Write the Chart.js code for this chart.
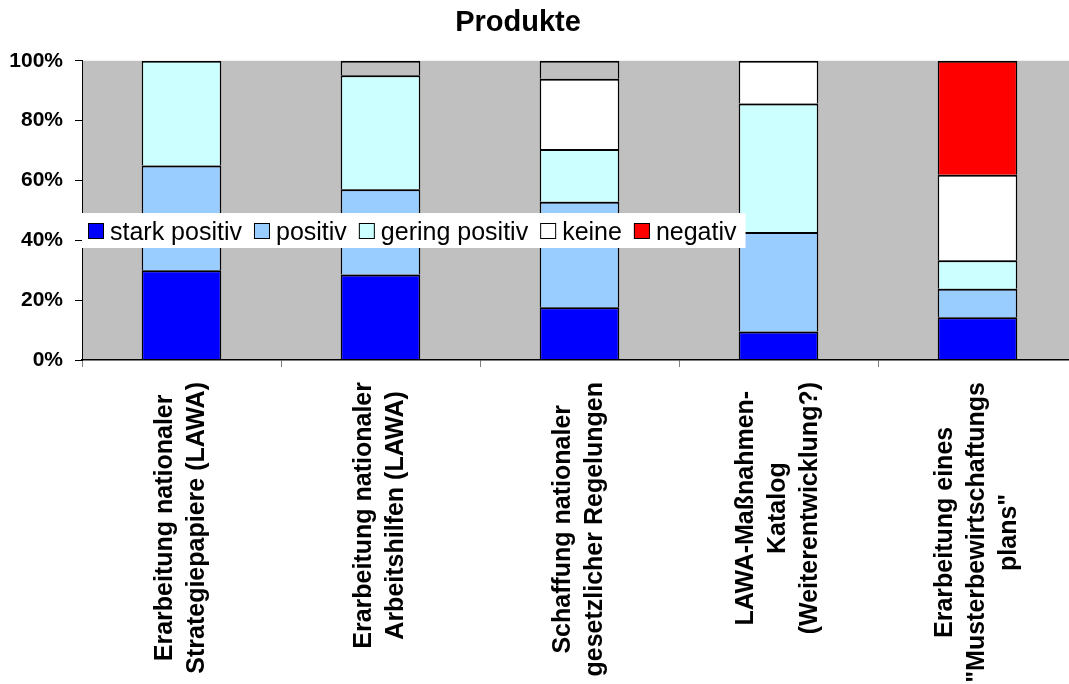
<!DOCTYPE html>
<html>
<head>
<meta charset="utf-8">
<title>Produkte</title>
<script src="https://cdn.jsdelivr.net/npm/chart.js@4.4.1/dist/chart.umd.min.js"></script>
<style>
  html, body { margin: 0; padding: 0; background: #ffffff; overflow: hidden; }
  #wrap { width: 1069px; height: 684px; overflow: hidden; }
  canvas { display: block; }
</style>
</head>
<body>
<div id="wrap"><canvas id="chart" width="1077" height="684"></canvas></div>
<script>
// Categories (multi-line labels, one array entry per line)
const categories = [
  ["Erarbeitung nationaler", "Strategiepapiere (LAWA)"],
  ["Erarbeitung nationaler", "Arbeitshilfen (LAWA)"],
  ["Schaffung nationaler", "gesetzlicher Regelungen"],
  ["LAWA-Maßnahmen-", "Katalog", "(Weiterentwicklung?)"],
  ["Erarbeitung eines", "\"Musterbewirtschaftungs", "plans\""]
];

// Shares in percent per rating
const starkPositiv  = [30.0, 28.6, 17.6,  9.5, 14.3];
const positiv       = [35.0, 28.5, 35.3, 33.3,  9.5];
const geringPositiv = [35.0, 38.1, 17.6, 42.9,  9.5];
const keine         = [ 0.0,  0.0, 23.5, 14.3, 28.6];
const negativ       = [ 0.0,  0.0,  0.0,  0.0, 38.1];
const keineAngabe   = [ 0.0,  4.8,  6.0,  0.0,  0.0];

// Value axis ticks
const yTicks = [0, 20, 40, 60, 80, 100];

const FONT = "'Liberation Sans', Arial, sans-serif";

// Grey plot area behind the bars
const plotBackground = {
  id: 'plotBackground',
  beforeDraw(chart) {
    const { ctx, chartArea: a } = chart;
    ctx.save();
    ctx.fillStyle = '#c0c0c0';
    ctx.fillRect(a.left, a.top, a.right - a.left, a.bottom - a.top);
    ctx.restore();
  }
};

// Centre the title over the visible part of the chart
const titleCentre = {
  id: 'titleCentre',
  afterLayout(chart) {
    const t = chart.titleBlock;
    if (t) { t.left = 0; t.right = 1036; t.width = 1036; }
  }
};

// Vertical, centred multi-line category labels placed at the category positions
const categoryLabels = {
  id: 'categoryLabels',
  afterDraw(chart) {
    const { ctx } = chart;
    const xs = chart.scales.x;
    const top = chart.chartArea.bottom + 22;
    const pitch = 32;
    ctx.save();
    ctx.font = "bold 25px " + FONT;
    ctx.fillStyle = '#000000';
    ctx.textAlign = 'center';
    ctx.textBaseline = 'middle';
    chart.data.labels.forEach((lines, i) => {
      const cx = xs.getPixelForValue(i);
      const maxW = Math.max(...lines.map(l => ctx.measureText(l).width));
      const cy = top + maxW / 2;
      lines.forEach((line, j) => {
        const lx = cx + (j - (lines.length - 1) / 2) * pitch;
        ctx.save();
        ctx.translate(lx, cy);
        ctx.rotate(-Math.PI / 2);
        ctx.fillText(line, 0, 0);
        ctx.restore();
      });
    });
    ctx.restore();
  }
};

// Horizontal legend on a white strip across the middle of the plot
const overlayLegend = {
  id: 'overlayLegend',
  afterDraw(chart) {
    const { ctx } = chart;
    const items = chart.data.datasets.filter(d => d.inLegend);
    const boxTop = 213, boxBottom = 248;
    ctx.save();
    ctx.font = "25px " + FONT;
    let x = 88;
    const layout = items.map(d => {
      const w = ctx.measureText(d.label).width;
      const item = { d, x, w };
      x += 16 + 6 + w + 12;
      return item;
    });
    const right = x - 12 + 9;
    ctx.fillStyle = '#ffffff';
    ctx.fillRect(82, boxTop, right - 82, boxBottom - boxTop);
    layout.forEach(({ d, x }) => {
      ctx.fillStyle = d.backgroundColor;
      ctx.fillRect(x, 223, 16, 16);
      ctx.strokeStyle = '#000000';
      ctx.lineWidth = 1;
      ctx.strokeRect(x + 0.5, 223.5, 15, 15);
      ctx.fillStyle = '#000000';
      ctx.textAlign = 'left';
      ctx.textBaseline = 'alphabetic';
      ctx.fillText(d.label, x + 22, 239.5);
    });
    ctx.restore();
  }
};

const seg = (label, data, color, inLegend) => ({
  label, data, inLegend,
  backgroundColor: color,
  borderColor: '#000000',
  borderWidth: { top: 2, right: 1.5, bottom: 0, left: 1.5 },
  borderSkipped: false,
  inflateAmount: 0,
  barPercentage: 0.4,
  categoryPercentage: 1.0
});

new Chart(document.getElementById('chart'), {
  type: 'bar',
  data: {
    labels: categories,
    datasets: [
      seg('stark positiv', starkPositiv, '#0000ff', true),
      seg('positiv', positiv, '#99ccff', true),
      seg('gering positiv', geringPositiv, '#ccffff', true),
      seg('keine', keine, '#ffffff', true),
      seg('negativ', negativ, '#ff0000', true),
      seg('keine Angabe', keineAngabe, '#c0c0c0', false)
    ]
  },
  options: {
    responsive: false,
    animation: false,
    devicePixelRatio: 1,
    layout: { padding: 0 },
    plugins: {
      legend: { display: false },
      tooltip: { enabled: false },
      title: {
        display: true,
        text: 'Produkte',
        color: '#000000',
        font: { family: FONT, size: 29, weight: 'bold', lineHeight: 1.2 },
        padding: { top: 6, bottom: 20 }
      }
    },
    scales: {
      x: {
        stacked: true,
        offset: true,
        grid: {
          display: true,
          offset: true,
          drawOnChartArea: false,
          drawTicks: true,
          tickLength: 7,
          color: '#808080',
          lineWidth: 1
        },
        border: { display: true, color: '#000000', width: 1.5, z: 1 },
        ticks: { display: false },
        afterFit(scale) { scale.height = 324; }
      },
      y: {
        stacked: true,
        min: 0,
        max: 100,
        afterBuildTicks(scale) { scale.ticks = yTicks.map(v => ({ value: v })); },
        grid: {
          display: true,
          drawOnChartArea: false,
          drawTicks: true,
          tickLength: 7,
          color: '#000000',
          lineWidth: 1
        },
        border: { display: true, color: '#000000', width: 1 },
        ticks: {
          padding: 12,
          color: '#000000',
          font: { family: FONT, size: 21, weight: 'bold' },
          callback: v => v + '%'
        },
        afterFit(scale) { scale.width = 82; }
      }
    }
  },
  plugins: [plotBackground, titleCentre, categoryLabels, overlayLegend]
});
</script>
</body>
</html>
